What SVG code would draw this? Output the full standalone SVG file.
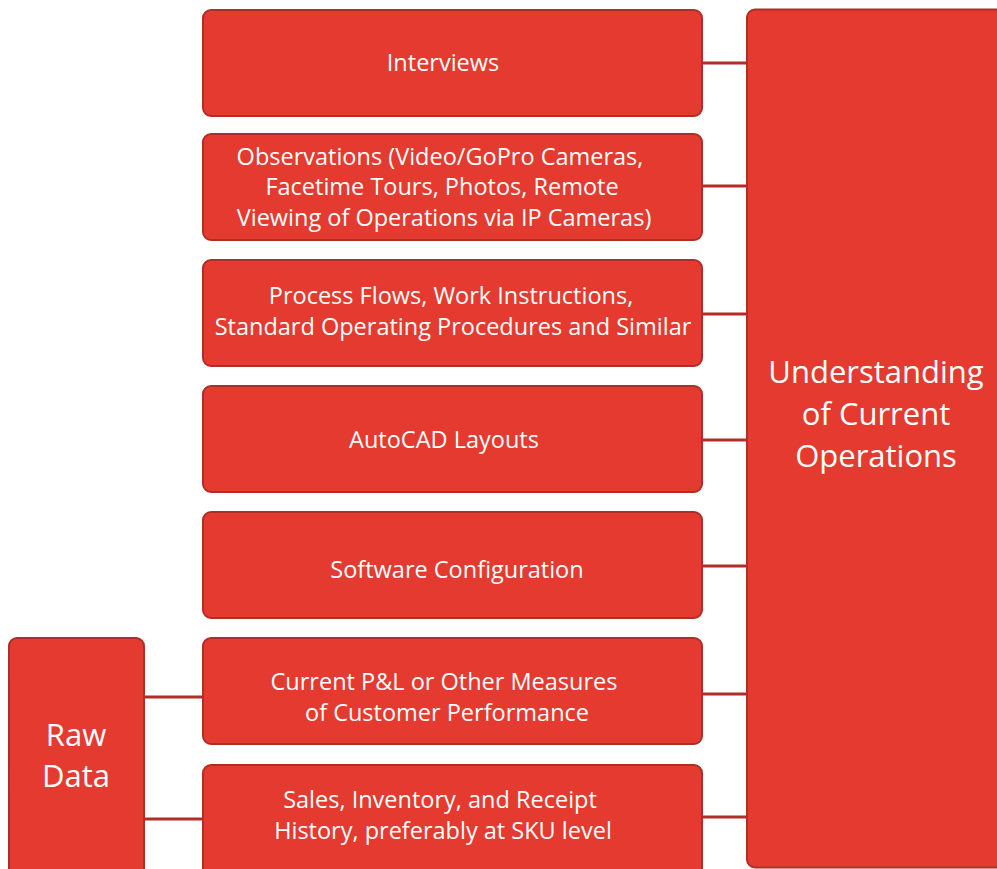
<svg xmlns="http://www.w3.org/2000/svg" width="997" height="869" viewBox="0 0 997 869">
<style>
.box{fill:#E53A2F;stroke:#B02E28;stroke-width:2}
.ln{stroke:#B02E28;stroke-width:3;fill:none}
.t{fill:#ffffff;font-family:"Open Sans","Noto Sans","Liberation Sans",sans-serif;font-size:23.5px;text-anchor:middle}
.big{fill:#ffffff;font-family:"Open Sans","Noto Sans","Liberation Sans",sans-serif;font-size:31px;text-anchor:middle}
</style>
<rect width="997" height="869" fill="#ffffff"/>
<g id="connectors">
<line class="ln" x1="702" y1="63" x2="747" y2="63"/>
<line class="ln" x1="702" y1="186" x2="747" y2="186"/>
<line class="ln" x1="702" y1="314" x2="747" y2="314"/>
<line class="ln" x1="702" y1="440" x2="747" y2="440"/>
<line class="ln" x1="702" y1="566" x2="747" y2="566"/>
<line class="ln" x1="702" y1="694" x2="747" y2="694"/>
<line class="ln" x1="702" y1="817" x2="747" y2="817"/>
<line class="ln" x1="144" y1="697" x2="203" y2="697"/>
<line class="ln" x1="144" y1="819" x2="203" y2="819"/>
</g>
<g id="understanding">
<rect class="box" x="747" y="9.5" width="270" height="858" rx="8"/>
<text class="big" x="876" y="383">Understanding</text>
<text class="big" x="876" y="425">of Current</text>
<text class="big" x="876" y="467">Operations</text>
</g>
<g id="rawdata">
<rect class="box" x="9" y="638" width="135" height="250" rx="8"/>
<text class="big" x="76" y="746">Raw</text>
<text class="big" x="76" y="787">Data</text>
</g>
<g id="interviews">
<rect class="box" x="203" y="10" width="499" height="106" rx="8"/>
<text class="t" x="443" y="71">Interviews</text>
</g>
<g id="observations">
<rect class="box" x="203" y="134" width="499" height="106" rx="8"/>
<text class="t" x="440" y="165">Observations (Video/GoPro Cameras,</text>
<text class="t" x="442" y="195">Facetime Tours, Photos, Remote</text>
<text class="t" x="444" y="226">Viewing of Operations via IP Cameras)</text>
</g>
<g id="processflows">
<rect class="box" x="203" y="260" width="499" height="106" rx="8"/>
<text class="t" x="451" y="304">Process Flows, Work Instructions,</text>
<text class="t" x="453" y="335">Standard Operating Procedures and Similar</text>
</g>
<g id="autocad">
<rect class="box" x="203" y="386" width="499" height="106" rx="8"/>
<text class="t" x="444" y="448">AutoCAD Layouts</text>
</g>
<g id="software">
<rect class="box" x="203" y="512" width="499" height="106" rx="8"/>
<text class="t" x="457" y="578">Software Configuration</text>
</g>
<g id="pnl">
<rect class="box" x="203" y="638" width="499" height="106" rx="8"/>
<text class="t" x="444" y="690">Current P&amp;L or Other Measures</text>
<text class="t" x="447" y="721">of Customer Performance</text>
</g>
<g id="sales">
<rect class="box" x="203" y="765" width="499" height="120" rx="8"/>
<text class="t" x="440" y="808">Sales, Inventory, and Receipt</text>
<text class="t" x="443" y="839">History, preferably at SKU level</text>
</g>
</svg>
